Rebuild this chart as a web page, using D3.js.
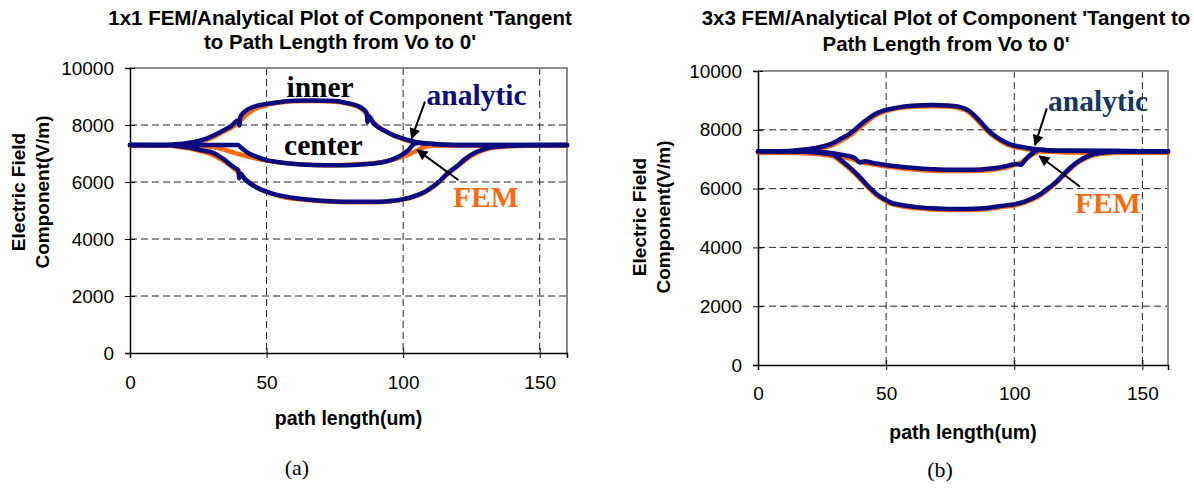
<!DOCTYPE html>
<html>
<head>
<meta charset="utf-8">
<script src="https://cdn.jsdelivr.net/npm/d3@7"></script>
<style>
  html, body { margin: 0; padding: 0; background: #fff; }
  svg { display: block; }
</style>
</head>
<body>
<svg id="fig" width="1194" height="494"></svg>
<script>
// ---- shared axis settings ----
const xTicks = [0, 50, 100, 150];
const yTicks = [0, 2000, 4000, 6000, 8000, 10000];
const xDomain = [0, 160];
const yDomain = [0, 10000];

// ---- (a) 1x1 : [path length (um), field (V/m)] ----
const inner1x1Analytic = [[0,7300],[10,7300],[16,7320],[20,7350],[24,7410],[28,7520],[31,7650],[34,7800],[37,7960],[39.7,8170],[40,7980],[40.4,8280],[42,8470],[45,8630],[50,8740],[55,8810],[60,8850],[67,8860],[75,8840],[78,8800],[81,8740],[84,8640],[86.6,8430],[87,8100],[87.4,8320],[89,8080],[90.6,7940],[93.5,7780],[97,7620],[100,7520],[103,7440],[106,7380],[110,7340],[115,7310],[122,7300],[160,7300]];
const inner1x1FEM = [[0,7280],[10,7280],[16,7290],[20,7320],[24,7380],[28,7480],[31,7600],[34,7750],[37,7900],[40,8110],[42,8300],[45,8520],[50,8700],[55,8790],[60,8830],[67,8840],[75,8820],[78,8780],[81,8720],[84,8620],[87,8360],[89,8120],[91,7940],[94,7760],[97,7610],[100,7500],[103,7420],[106,7360],[110,7320],[115,7295],[122,7280],[160,7280]];
const center1x1Analytic = [[0,7300],[39.5,7300],[40.5,7220],[42.6,7060],[46.2,6890],[49.9,6770],[54,6700],[58.4,6650],[63,6615],[67,6600],[75,6590],[82,6600],[87,6630],[90,6660],[93.7,6720],[97,6830],[99.8,6970],[102,7130],[104,7330],[106,7380],[110,7340],[115,7310],[122,7300],[160,7300]];
const center1x1FEM = [[0,7280],[25,7270],[30,7230],[34,7150],[38,7030],[42,6920],[46,6830],[50,6750],[55,6680],[60,6630],[67,6600],[75,6590],[82,6610],[88,6650],[93,6710],[97,6800],[100,6900],[102,6960],[104,7050],[106,7150],[108,7230],[111,7270],[115,7280],[160,7280]];
const outer1x1Analytic = [[0,7300],[15,7290],[18.2,7250],[22,7200],[26,7120],[30.4,7020],[34,6820],[37.7,6540],[39.7,6400],[40,6130],[40.4,6300],[42,6110],[43.8,5960],[46.5,5800],[49.9,5660],[55,5520],[60.8,5430],[68,5360],[75,5320],[82,5310],[91,5310],[96,5340],[100,5400],[104,5500],[108,5660],[111,5850],[113,6000],[115,6190],[117.5,6400],[120,6580],[123,6830],[127,7060],[131,7190],[136,7250],[145,7290],[160,7300]];
const outer1x1FEM = [[0,7280],[15,7270],[18,7230],[22,7170],[26,7080],[30,6960],[34,6760],[38,6480],[41,6200],[44,5970],[47,5790],[50,5650],[55,5500],[61,5400],[68,5340],[75,5300],[82,5290],[91,5290],[96,5320],[100,5380],[104,5480],[108,5640],[111,5830],[113,5980],[115,6160],[117.5,6370],[120,6550],[123,6790],[127,7020],[131,7160],[136,7230],[145,7270],[160,7280]];

// ---- (b) 3x3 ----
const inner3x3Analytic = [[0,7270],[12,7280],[16,7310],[20,7350],[23,7390],[26,7450],[29,7540],[32,7680],[36,7880],[41,8250],[46,8550],[51,8700],[56,8780],[60,8815],[68,8840],[74,8830],[78,8790],[80.5,8730],[82.5,8640],[85,8440],[87.7,8190],[90,7970],[93,7760],[96,7600],[99,7490],[102,7430],[105,7380],[109,7330],[113,7305],[120,7285],[140,7275],[160,7270]];
const inner3x3FEM = [[0,7225],[12,7235],[16,7260],[20,7300],[23,7340],[26,7400],[29,7480],[32,7610],[36,7810],[41,8170],[46,8490],[51,8660],[56,8745],[60,8780],[68,8800],[74,8790],[78,8745],[80.5,8680],[82.5,8580],[85,8380],[87.7,8130],[90,7915],[93,7715],[96,7555],[99,7445],[102,7385],[105,7335],[109,7285],[113,7260],[120,7240],[140,7230],[160,7225]];
const center3x3Analytic = [[0,7270],[18,7265],[22,7255],[26,7235],[29.3,7200],[32,7160],[34.5,7120],[37.7,7040],[39.7,6890],[41.6,6930],[45,6870],[48,6830],[54,6760],[61,6700],[68,6660],[74,6640],[81,6640],[87,6650],[91,6680],[94.2,6720],[98,6790],[100.7,6840],[102.6,6810],[104.5,7000],[107,7200],[110,7320],[113,7305],[120,7285],[140,7275],[160,7270]];
const center3x3FEM = [[0,7225],[18,7220],[22,7205],[26,7180],[29.3,7140],[32,7100],[34.5,7050],[37.7,6980],[40,6900],[43,6850],[48,6780],[54,6710],[61,6650],[68,6610],[74,6595],[81,6595],[87,6605],[91,6635],[94.2,6675],[98,6750],[101,6830],[103,6910],[105,7030],[107,7150],[110,7260],[113,7260],[120,7240],[140,7230],[160,7225]];
const outer3x3Analytic = [[0,7270],[16,7260],[20,7245],[24,7215],[29.3,7150],[32.5,6960],[35.8,6720],[38.5,6500],[41,6270],[43.5,6040],[46.2,5820],[49,5660],[51.4,5540],[56,5440],[61.8,5370],[68,5330],[74.8,5310],[81,5310],[87.7,5330],[94,5400],[100.7,5480],[104,5560],[107.1,5670],[110,5800],[112,5930],[114,6060],[116,6200],[118,6370],[120,6550],[122.5,6760],[125,6930],[128,7070],[131,7170],[135,7230],[142,7260],[160,7270]];
const outer3x3FEM = [[0,7225],[16,7215],[20,7195],[24,7165],[29.3,7095],[32.5,6910],[35.8,6670],[38.5,6450],[41,6220],[43.5,5995],[46.2,5775],[49,5620],[51.4,5500],[56,5400],[61.8,5330],[68,5290],[74.8,5270],[81,5270],[87.7,5290],[94,5360],[100.7,5440],[104,5520],[107.1,5630],[110,5760],[112,5890],[114,6020],[116,6160],[118,6330],[120,6510],[122.5,6720],[125,6890],[128,7030],[131,7130],[135,7190],[142,7220],[160,7225]];

// ---- text ----
const titleA = ["1x1 FEM/Analytical Plot of Component 'Tangent", "to Path Length from Vo to 0'"];
const titleB = ["3x3 FEM/Analytical Plot of Component 'Tangent to", "Path Length from Vo to 0'"];
const yTitle = ["Electric Field", "Component(V/m)"];
const xTitle = "path length(um)";

const COLORS = { analytic: "#0a0a80", fem: "#ff6a10" };

const svg = d3.select("#fig");
const defs = svg.append("defs");
defs.append("marker")
  .attr("id", "head")
  .attr("viewBox", "0 0 10 10")
  .attr("refX", 9).attr("refY", 5)
  .attr("markerWidth", 6).attr("markerHeight", 5.5)
  .attr("markerUnits", "strokeWidth")
  .attr("orient", "auto")
  .append("path").attr("d", "M0,0 L10,5 L0,10 Z").attr("fill", "#000");

function panel(cfg) {
  const g = svg.append("g");
  const x = d3.scaleLinear().domain(xDomain).range([cfg.left, cfg.right]);
  const y = d3.scaleLinear().domain(yDomain).range([cfg.bottom, cfg.top]);

  // dashed gridlines
  g.append("g").selectAll("line").data(yTicks.filter(v => v > 0 && v < 10000)).join("line")
    .attr("x1", cfg.left).attr("x2", cfg.right)
    .attr("y1", d => y(d)).attr("y2", d => y(d))
    .attr("stroke", "#222").attr("stroke-width", 1).attr("stroke-dasharray", "7,4");
  g.append("g").selectAll("line").data(xTicks.filter(v => v > 0)).join("line")
    .attr("x1", d => x(d)).attr("x2", d => x(d))
    .attr("y1", cfg.top).attr("y2", cfg.bottom)
    .attr("stroke", "#222").attr("stroke-width", 1).attr("stroke-dasharray", "7,4");

  // plot-area frame (top/right)
  g.append("path")
    .attr("d", `M${cfg.left},${cfg.top}H${cfg.right}V${cfg.bottom}`)
    .attr("fill", "none").attr("stroke", "#8c8c8c").attr("stroke-width", 2);

  // axes
  const xAxis = d3.axisBottom(x).tickValues(xTicks).tickSize(5).tickPadding(14).tickFormat(d3.format("d"));
  const yAxis = d3.axisLeft(y).tickValues(yTicks).tickSize(5).tickPadding(11).tickFormat(d3.format("d"));
  const gx = g.append("g").attr("transform", `translate(0,${cfg.bottom})`).call(xAxis);
  const gy = g.append("g").attr("transform", `translate(${cfg.left},0)`).call(yAxis);
  [gx, gy].forEach(a => {
    a.select(".domain").attr("stroke", "#000").attr("stroke-width", 1.5);
    a.selectAll(".tick line").attr("stroke", "#000").attr("stroke-width", 1);
    a.selectAll(".tick text").attr("font-family", "'Liberation Sans', Arial, sans-serif")
      .attr("font-size", 19).attr("fill", "#000");
  });
  // cross tick marks
  gx.selectAll(".tick line").attr("y1", -5).attr("y2", 5);
  gy.selectAll(".tick line").attr("x1", 5).attr("x2", -5);
  gx.selectAll(".tick text").attr("dy", null).attr("y", cfg.xTickBaseline - cfg.bottom);

  // curves: FEM underneath, analytic on top
  const line = d3.line().x(d => x(d[0])).y(d => y(d[1])).curve(d3.curveMonotoneX);
  const curves = g.append("g").attr("fill", "none")
    .attr("stroke-linejoin", "round").attr("stroke-linecap", "round");
  cfg.fem.forEach(s => curves.append("path").attr("d", line(s))
    .attr("stroke", COLORS.fem).attr("stroke-width", 4.5));
  cfg.analytic.forEach(s => curves.append("path").attr("d", line(s))
    .attr("stroke", COLORS.analytic).attr("stroke-width", 4.5));

  // titles
  const title = g.append("text").attr("text-anchor", "middle")
    .attr("font-family", "'Liberation Sans', Arial, sans-serif")
    .attr("font-weight", "bold").attr("font-size", 20.5).attr("fill", "#000");
  cfg.title.forEach((t, i) => title.append("tspan").attr("x", cfg.titleX).attr("y", cfg.titleY[i]).text(t));

  g.append("text").attr("x", (cfg.left + cfg.right) / 2).attr("y", cfg.xTitleY)
    .attr("text-anchor", "middle")
    .attr("font-family", "'Liberation Sans', Arial, sans-serif")
    .attr("font-weight", "bold").attr("font-size", 19.5).text(xTitle);

  yTitle.forEach((t, i) => {
    g.append("text")
      .attr("transform", `translate(${cfg.yTitleX[i]},${cfg.yTitleMid}) rotate(-90)`)
      .attr("text-anchor", "middle")
      .attr("font-family", "'Liberation Sans', Arial, sans-serif")
      .attr("font-weight", "bold").attr("font-size", 19).text(t);
  });

  g.append("text").attr("x", cfg.capX).attr("y", cfg.capY).attr("text-anchor", "middle")
    .attr("font-family", "'Liberation Serif', 'Times New Roman', serif")
    .attr("font-size", 22).text(cfg.caption);

  // annotations (placed in data units)
  cfg.notes.forEach(n => {
    g.append("text").attr("x", x(n.at[0])).attr("y", y(n.at[1]))
      .attr("text-anchor", n.anchor || "start")
      .attr("font-family", "'Liberation Serif', 'Times New Roman', serif")
      .attr("font-weight", "bold").attr("font-size", 29.5)
      .attr("fill", n.color).text(n.text);
  });
  cfg.arrows.forEach(a => {
    g.append("line")
      .attr("x1", x(a.from[0])).attr("y1", y(a.from[1]))
      .attr("x2", x(a.to[0])).attr("y2", y(a.to[1]))
      .attr("stroke", "#000").attr("stroke-width", 2)
      .attr("marker-end", "url(#head)");
  });
}

panel({
  left: 130, right: 567, top: 68, bottom: 353,
  xTickBaseline: 389,
  analytic: [inner1x1Analytic, center1x1Analytic, outer1x1Analytic],
  fem: [inner1x1FEM, center1x1FEM, outer1x1FEM],
  title: titleA, titleX: 340, titleY: [25, 49],
  xTitleY: 425,
  yTitleX: [25, 49], yTitleMid: 192,
  caption: "(a)", capX: 297, capY: 475,
  notes: [
    { text: "inner", at: [69.6, 8990], anchor: "middle", color: "#000" },
    { text: "center", at: [70.8, 6950], anchor: "middle", color: "#000" },
    { text: "analytic", at: [108.6, 8700], color: "#0a0a80" },
    { text: "FEM", at: [118.3, 5130], color: "#ff6a10" }
  ],
  arrows: [
    { from: [108, 8820], to: [103.1, 7530] },
    { from: [120.2, 6070], to: [105.2, 7120] }
  ]
});

panel({
  left: 758, right: 1168, top: 71, bottom: 365,
  xTickBaseline: 400,
  analytic: [inner3x3Analytic, center3x3Analytic, outer3x3Analytic],
  fem: [inner3x3FEM, center3x3FEM, outer3x3FEM],
  title: titleB, titleX: 946, titleY: [25, 51],
  xTitleY: 439,
  yTitleX: [646, 670], yTitleMid: 217,
  caption: "(b)", capX: 940, capY: 477,
  notes: [
    { text: "analytic", at: [113.2, 8650], color: "#17375e" },
    { text: "FEM", at: [123.7, 5180], color: "#ff6a10" }
  ],
  arrows: [
    { from: [112.7, 8730], to: [108.1, 7480] },
    { from: [125.7, 6065], to: [109.8, 7110] }
  ]
});
</script>
</body>
</html>
